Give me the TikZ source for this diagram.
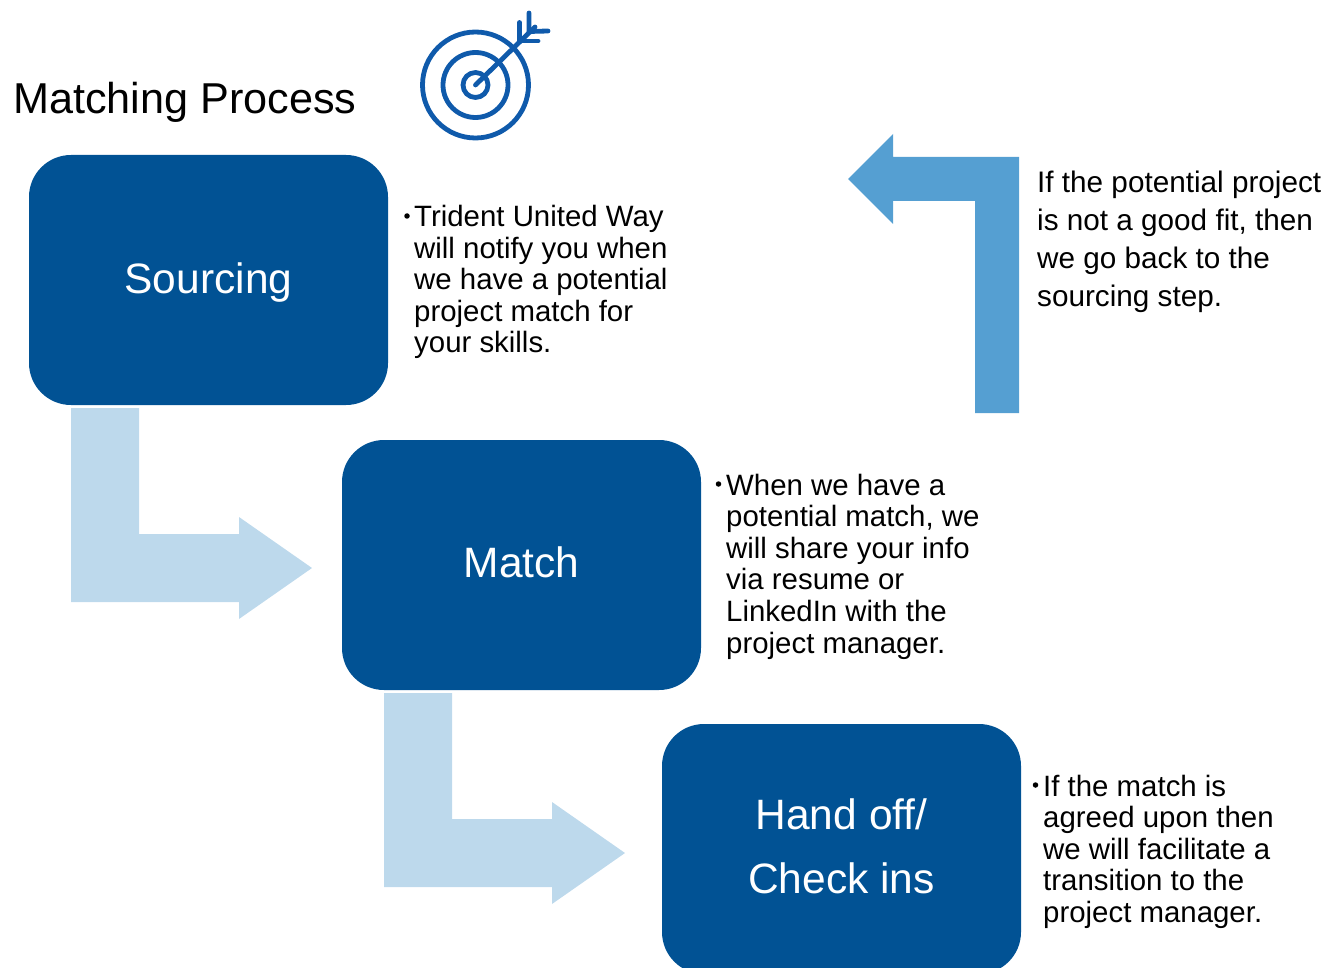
\documentclass[tikz,border=0pt]{standalone}
\usepackage{fontspec}
\setmainfont{Liberation Sans}
\definecolor{boxblue}{HTML}{015294}
\definecolor{lightarrow}{HTML}{BDD9EC}
\definecolor{midarrow}{HTML}{559FD2}
\definecolor{iconblue}{HTML}{0F5AAB}
\tikzset{
  stepbox/.style={fill=boxblue,rounded corners=42pt,minimum width=359pt,minimum height=250pt,inner sep=0pt},
  steptext/.style={text=white,inner sep=0pt,font=\fontsize{42.5}{64}\selectfont,align=center},
  bodytext/.style={anchor=north west,inner sep=0pt,align=left,text=black,font=\fontsize{29.4}{31.6}\selectfont},
  sidetext/.style={anchor=north west,inner sep=0pt,align=left,text=black,font=\fontsize{29.7}{38}\selectfont},
  bulletdot/.style={circle,fill=black,inner sep=0pt,minimum size=5.5pt},
  iconline/.style={draw=iconblue,line width=4.8pt,line cap=round,line join=round},
}
\begin{document}
\begin{tikzpicture}[x=1pt,y=-1pt]
\useasboundingbox (0,0) rectangle (1341,968);
\clip (0,0) rectangle (1341,968);
% block arrows
\fill[lightarrow] (71,408) -- (139,408) -- (139,534) -- (239,534) -- (239,517) -- (312,568) -- (239,619) -- (239,602) -- (71,602) -- cycle;
\fill[lightarrow] (384,693) -- (452,693) -- (452,819) -- (552,819) -- (552,802) -- (625,853) -- (552,904) -- (552,887) -- (384,887) -- cycle;
\fill[midarrow] (975,413) -- (1019,413) -- (1019,157) -- (893,157) -- (893,134) -- (848,179) -- (893,224) -- (893,201) -- (975,201) -- cycle;
% boxes
\node[stepbox] (sourcing) at (208.5,280) {};
\node[stepbox] (match) at (521.5,565) {};
\node[stepbox] (handoff) at (841.5,849) {};
\node[steptext,yshift=-3pt] (sourcinglabel) at (sourcing.center) {Sourcing};
\node[steptext,yshift=3pt] (matchlabel) at (match.center) {Match};
\node[steptext,yshift=2.5pt] (handofflabel) at (handoff.center) {Hand off/\\Check ins};
% title
\node[anchor=base west,inner sep=0pt,font=\fontsize{43.2}{50}\selectfont] (title) at (13,113.5) {Matching Process};
% icon
\draw[iconline] (475.5,85) circle (53);
\draw[iconline] (475.5,85) circle (32.5);
\draw[iconline] (475.5,85) circle (12.5);
\draw[iconline] (475.5,85) -- (535,27);
\draw[iconline] (519.5,22.5) -- (519.5,41) -- (538,41);
\draw[iconline] (529,13) -- (529,31.5) -- (548,31);
% texts
\node[bulletdot] (b1) at (407,216) {};
\node[bodytext] (t1) at (414,205) {Trident United Way\\will notify you when\\we have a potential\\project match for\\your skills.};
\node[bulletdot] (b2) at (718.5,484) {};
\node[bodytext] (t2) at (726,473.5) {When we have a\\potential match, we\\will share your info\\via resume or\\LinkedIn with the\\project manager.};
\node[bulletdot] (b3) at (1035.5,785) {};
\node[bodytext] (t3) at (1043,774.5) {If the match is\\agreed upon then\\we will facilitate a\\transition to the\\project manager.};
\node[sidetext] (t4) at (1037,171) {If the potential project\\is not a good fit, then\\we go back to the\\sourcing step.};
\end{tikzpicture}
\end{document}
